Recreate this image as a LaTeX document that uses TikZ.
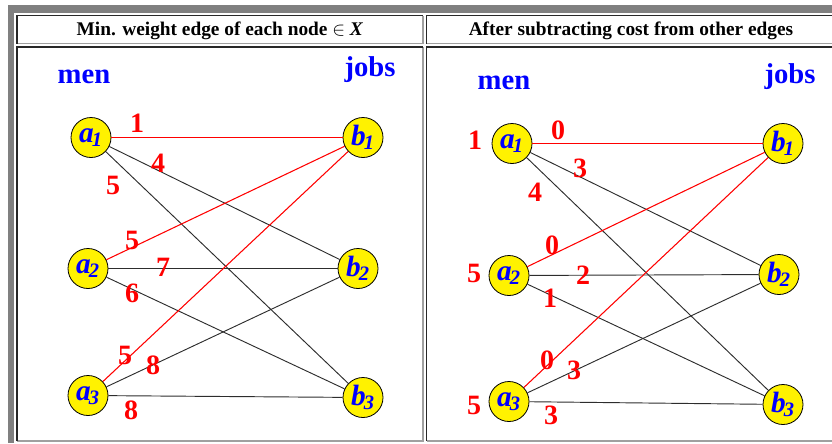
\documentclass[tikz,border=0pt]{standalone}
\usepackage{fontspec}
\setmainfont{Liberation Serif}
\usepackage{xcolor}
\usetikzlibrary{positioning}
\definecolor{framegray}{RGB}{128,128,128}
\definecolor{celldark}{RGB}{40,40,40}
\definecolor{celllight}{RGB}{160,160,160}
\definecolor{edgeblack}{RGB}{45,45,45}
\newcommand{\vsub}[2]{#1\kern-1.5pt\textsubscript{#2}}

\begin{document}
\begin{tikzpicture}[
x=0.75pt,y=-0.75pt,
vert/.style={
circle,draw,line width=0.6pt,fill=yellow,
minimum size=30pt,inner sep=0pt,
text=blue,font=\fontsize{22}{22}\selectfont\bfseries\itshape
},
weight/.style={text=red,inner sep=0pt,font=\fontsize{21}{21}\selectfont\bfseries},
side/.style={text=blue,anchor=base,inner sep=0pt,font=\fontsize{21.5}{22}\selectfont\bfseries},
title/.style={anchor=base,inner sep=0pt,font=\fontsize{14.5}{17}\selectfont\bfseries},
matched/.style={red,line width=0.8pt},
other/.style={edgeblack,line width=0.7pt},
dark/.style={celldark,line width=1.1pt},
light/.style={celllight,line width=1.1pt}
]
\useasboundingbox (0,0) rectangle (832,443);
\clip (0,0) rectangle (832,443);

% table frame
\fill[framegray] (8,5) rectangle (836,12.5);
\fill[framegray] (8,5) rectangle (14,443);
\draw[light] (423,15.5) -- (423,43.5) -- (17.2,43.5);
\draw[dark] (17.2,43.5) -- (17.2,15.5) -- (423,15.5);
\draw[light] (423,46.8) -- (423,441) -- (17.2,441);
\draw[dark] (17.2,441) -- (17.2,46.8) -- (423,46.8);
\draw[light] (836,15.5) -- (836,43.5) -- (426.5,43.5);
\draw[dark] (426.5,43.5) -- (426.5,15.5) -- (836,15.5);
\draw[light] (836,46.8) -- (836,441) -- (426.5,441);
\draw[dark] (426.5,441) -- (426.5,46.8) -- (836,46.8);

\node[title] (titleL) at (220,35) {Min. weight edge of each node $\in$ \textit{X}};
\node[title] (titleR) at (631,35) {After subtracting cost from other edges};

% left panel
\node[side] (menL) at (84,83) {men};
\node[side] (jobsL) at (370,76) {jobs};

\node[vert] (la1) at (91,137.5) {\vsub{a}{1}};
\node[vert] (la2) at (88,268.5) {\vsub{a}{2}};
\node[vert] (la3) at (88,395.5) {\vsub{a}{3}};
\node[vert] (lb1) at (363,137.5) {\vsub{b}{1}};
\node[vert] (lb2) at (358,268.5) {\vsub{b}{2}};
\node[vert] (lb3) at (363,397.5) {\vsub{b}{3}};

\draw[matched] (la1) -- (lb1);
\draw[other] (la1) -- (lb2);
\draw[other] (la1) -- (lb3);
\draw[matched] (la2) -- (lb1);
\draw[other] (la2) -- (lb2);
\draw[other] (la2) -- (lb3);
\draw[matched] (la3) -- (lb1);
\draw[other] (la3) -- (lb2);
\draw[other] (la3) -- (lb3);

\node[weight] (lw11) at (137,123) {1};
\node[weight] (lw12) at (158,163) {4};
\node[weight] (lw13) at (113,185) {5};
\node[weight] (lw21) at (132,240) {5};
\node[weight] (lw22) at (163,267) {7};
\node[weight] (lw23) at (132,293) {6};
\node[weight] (lw31) at (125,355) {5};
\node[weight] (lw32) at (153,365) {8};
\node[weight] (lw33) at (131,410) {8};

% right panel
\node[side] (menR) at (504,89) {men};
\node[side] (jobsR) at (790,83) {jobs};

\node[vert] (ra1) at (512,143.5) {\vsub{a}{1}};
\node[vert] (ra2) at (509,275.5) {\vsub{a}{2}};
\node[vert] (ra3) at (509,401.5) {\vsub{a}{3}};
\node[vert] (rb1) at (783,143.5) {\vsub{b}{1}};
\node[vert] (rb2) at (779,274.5) {\vsub{b}{2}};
\node[vert] (rb3) at (783,404.5) {\vsub{b}{3}};

\draw[matched] (ra1) -- (rb1);
\draw[other] (ra1) -- (rb2);
\draw[other] (ra1) -- (rb3);
\draw[matched] (ra2) -- (rb1);
\draw[other] (ra2) -- (rb2);
\draw[other] (ra2) -- (rb3);
\draw[matched] (ra3) -- (rb1);
\draw[other] (ra3) -- (rb2);
\draw[other] (ra3) -- (rb3);

\node[weight] (rp1) at (475,140) {1};
\node[weight] (rp2) at (474,273) {5};
\node[weight] (rp3) at (474,405) {5};

\node[weight] (rw11) at (558,130) {0};
\node[weight] (rw12) at (580,168) {3};
\node[weight] (rw13) at (535,192) {4};
\node[weight] (rw21) at (552,245) {0};
\node[weight] (rw22) at (583,275) {2};
\node[weight] (rw23) at (550,298) {1};
\node[weight] (rw31) at (547,360) {0};
\node[weight] (rw32) at (574,370) {3};
\node[weight] (rw33) at (551,415) {3};

\end{tikzpicture}
\end{document}
